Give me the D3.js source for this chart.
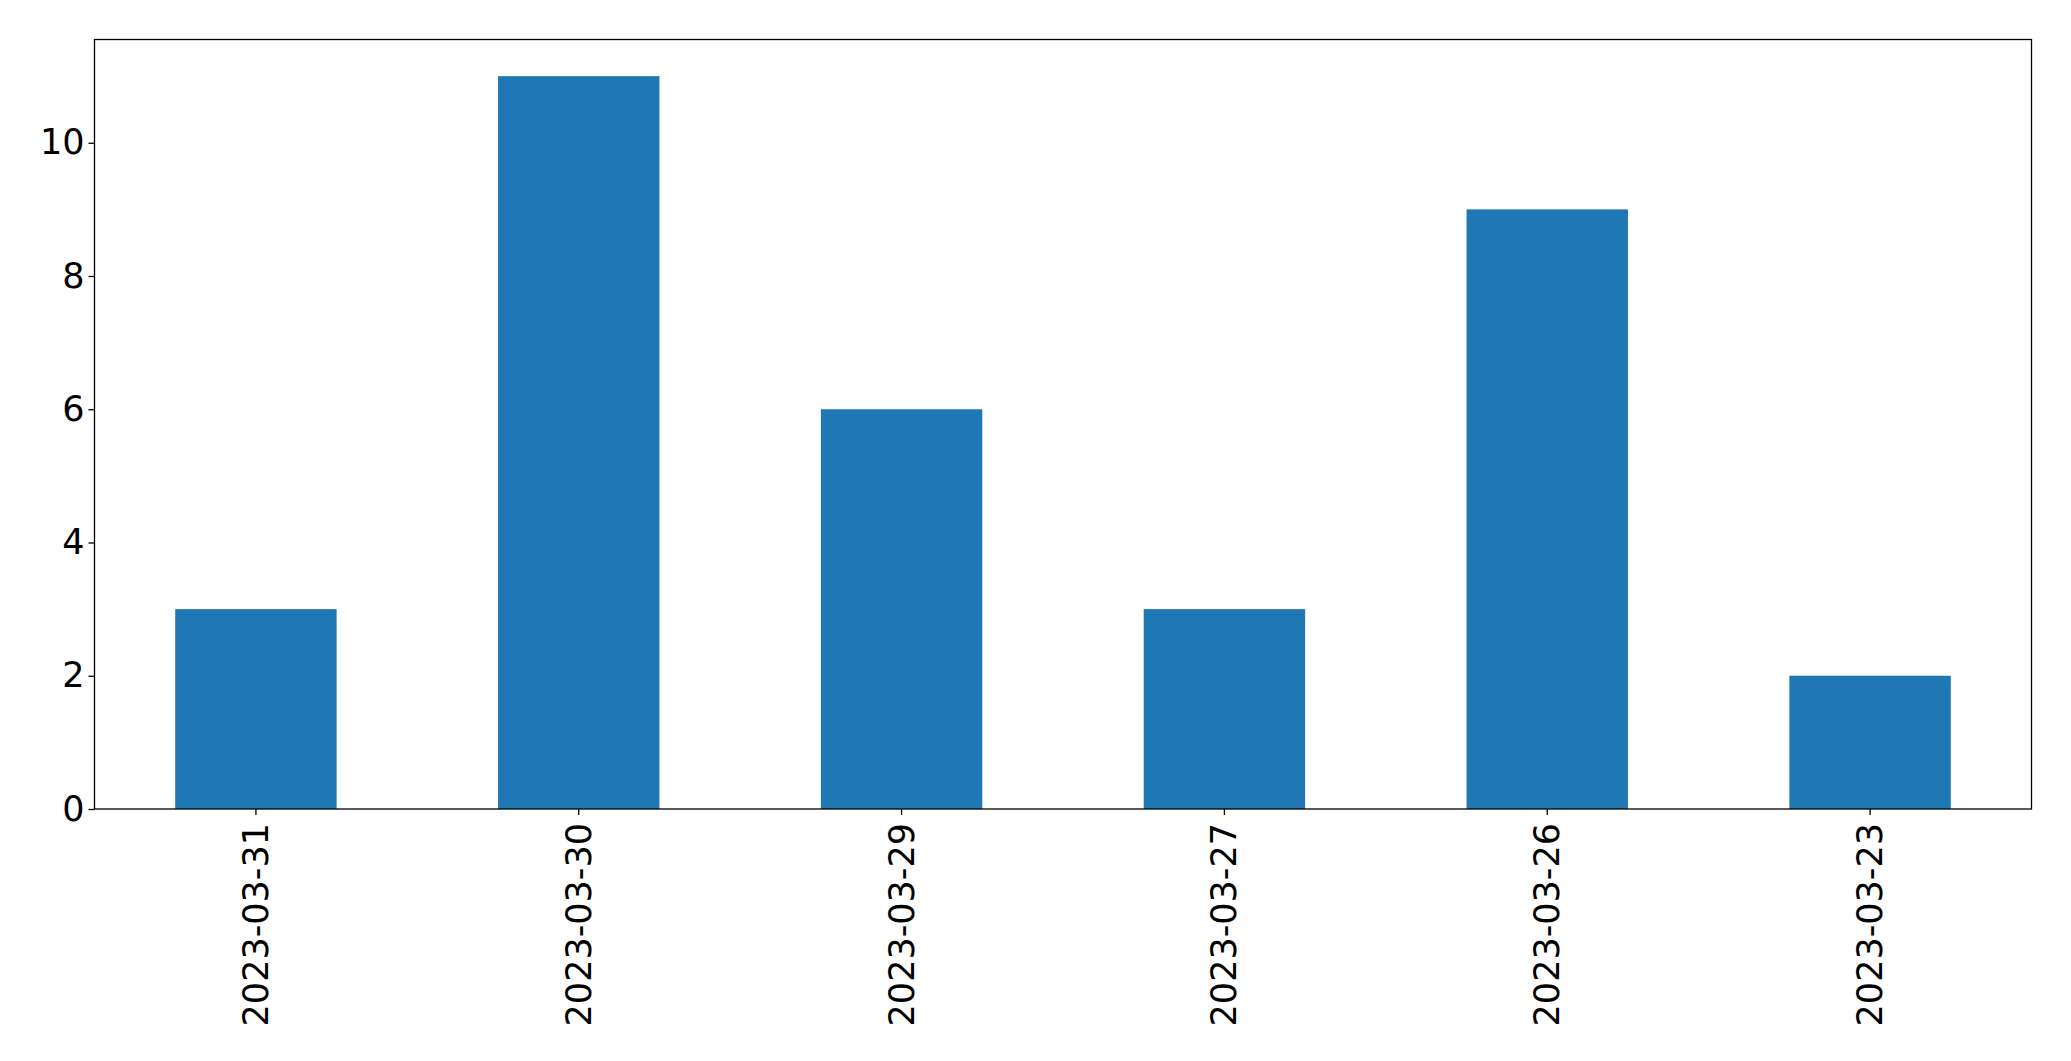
<!DOCTYPE html>
<html>
<head>
<meta charset="utf-8">
<script src="https://cdn.jsdelivr.net/npm/d3@7"></script>
<style>
  html, body { margin: 0; padding: 0; background: #fff; }
  svg { display: block; }
  text { font-family: "DejaVu Sans", sans-serif; }
</style>
</head>
<body>
<svg id="chart" width="2071" height="1061"></svg>
<script>
const categories = ["2023-03-31", "2023-03-30", "2023-03-29", "2023-03-27", "2023-03-26", "2023-03-23"];
const values = [3, 11, 6, 3, 9, 2];
const yTicks = [0, 2, 4, 6, 8, 10];

const W = 2071, H = 1061;
const margin = { left: 94.5, right: 2071 - 2031.5, top: 39.5, bottom: 1061 - 809 };
const svg = d3.select("#chart");

const x = d3.scaleBand()
  .domain(categories)
  .range([margin.left, W - margin.right])
  .paddingInner(0.5)
  .paddingOuter(0.25);

const yMax = d3.max(values) * 1.05;
const y = d3.scaleLinear().domain([0, yMax]).range([H - margin.bottom, margin.top]);

svg.append("g").selectAll("rect")
  .data(categories.map((c, i) => ({ c, v: values[i] })))
  .join("rect")
  .attr("x", d => x(d.c))
  .attr("y", d => y(d.v))
  .attr("width", x.bandwidth())
  .attr("height", d => y(0) - y(d.v))
  .attr("fill", "#1f77b4");

const fs = 35;

const yAxis = svg.append("g")
  .attr("transform", `translate(${margin.left},0)`)
  .call(d3.axisLeft(y).tickValues(yTicks).tickSize(6).tickPadding(4).tickFormat(d3.format("d")));
yAxis.select(".domain").remove();
yAxis.selectAll("line").attr("stroke", "#000").attr("stroke-width", 1.3);
yAxis.selectAll("text").attr("font-size", fs).attr("fill", "#000")
  .attr("font-family", "DejaVu Sans, sans-serif");

const xAxis = svg.append("g")
  .attr("transform", `translate(0,${H - margin.bottom})`)
  .call(d3.axisBottom(x).tickSize(6).tickPadding(0));
xAxis.select(".domain").remove();
xAxis.selectAll("line").attr("stroke", "#000").attr("stroke-width", 1.3);
xAxis.selectAll("text")
  .attr("font-size", fs)
  .attr("fill", "#000")
  .attr("font-family", "DejaVu Sans, sans-serif")
  .attr("text-anchor", "end")
  .attr("dy", null)
  .attr("y", 0)
  .attr("transform", "translate(0,14) rotate(-90)")
  .attr("dominant-baseline", "central");

svg.append("rect")
  .attr("x", margin.left)
  .attr("y", margin.top)
  .attr("width", W - margin.right - margin.left)
  .attr("height", H - margin.bottom - margin.top)
  .attr("fill", "none")
  .attr("stroke", "#000")
  .attr("stroke-width", 1.3);
</script>
</body>
</html>
